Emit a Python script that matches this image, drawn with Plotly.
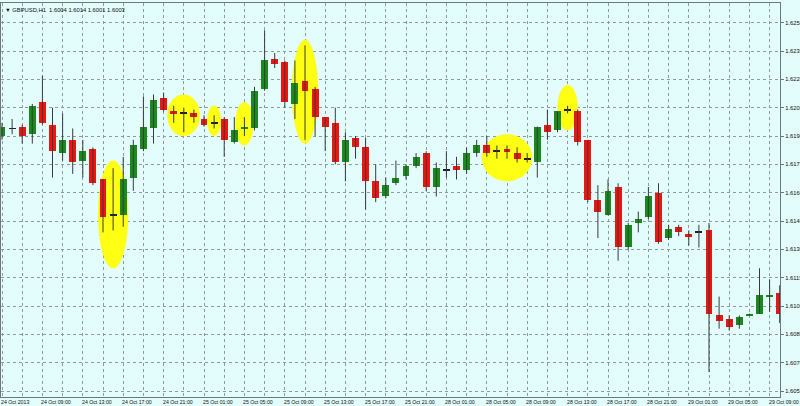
import plotly.graph_objects as go

title_text = "▼ GBPUSD,H1  1.6004 1.6014 1.6001 1.6003"

open_ = [1.6190, 1.6194, 1.6195, 1.6191, 1.6208, 1.6196, 1.6181, 1.6188, 1.6177, 1.6183,
         1.6167, 1.6148, 1.6148, 1.6168, 1.6183, 1.6194, 1.6210, 1.6203, 1.6202, 1.6202,
         1.6199, 1.6197, 1.6199, 1.6187, 1.6194, 1.6194, 1.6215, 1.6231, 1.6229, 1.6207,
         1.6219, 1.6215, 1.6200, 1.6197, 1.6176, 1.6189, 1.6184, 1.6166, 1.6158, 1.6165,
         1.6169, 1.6174, 1.6181, 1.6163, 1.6172, 1.6174, 1.6172, 1.6181, 1.6185, 1.6182,
         1.6183, 1.6181, 1.6178, 1.6176, 1.6196, 1.6193, 1.6204, 1.6203, 1.6188, 1.6156,
         1.6148, 1.6163, 1.6131, 1.6144, 1.6147, 1.6160, 1.6136, 1.6142, 1.6138, 1.6139,
         1.6140, 1.6095, 1.6093, 1.6090, 1.6095, 1.6096, 1.6105, 1.6107]
high = [1.6197, 1.6199, 1.6196, 1.6207, 1.6222, 1.6205, 1.6202, 1.6194, 1.6188, 1.6184,
        1.6167, 1.6173, 1.6179, 1.6188, 1.6211, 1.6212, 1.6213, 1.6206, 1.6205, 1.6204,
        1.6201, 1.6201, 1.6200, 1.6200, 1.6200, 1.6216, 1.6246, 1.6234, 1.6230, 1.6230,
        1.6238, 1.6216, 1.6200, 1.6205, 1.6192, 1.6190, 1.6189, 1.6175, 1.6168, 1.6177,
        1.6175, 1.6181, 1.6182, 1.6176, 1.6182, 1.6179, 1.6184, 1.6188, 1.6190, 1.6185,
        1.6185, 1.6184, 1.6181, 1.6195, 1.6204, 1.6203, 1.6206, 1.6204, 1.6188, 1.6164,
        1.6167, 1.6165, 1.6144, 1.6150, 1.6163, 1.6165, 1.6143, 1.6143, 1.6140, 1.6143,
        1.6144, 1.6105, 1.6095, 1.6095, 1.6096, 1.6120, 1.6114, 1.6111]
low = [1.6188, 1.6191, 1.6186, 1.6186, 1.6196, 1.6168, 1.6177, 1.6170, 1.6168, 1.6164,
       1.6139, 1.6140, 1.6142, 1.6161, 1.6182, 1.6186, 1.6203, 1.6197, 1.6192, 1.6197,
       1.6195, 1.6194, 1.6179, 1.6186, 1.6190, 1.6193, 1.6214, 1.6226, 1.6205, 1.6199,
       1.6188, 1.6190, 1.6182, 1.6175, 1.6166, 1.6178, 1.6151, 1.6155, 1.6157, 1.6164,
       1.6167, 1.6173, 1.6161, 1.6158, 1.6168, 1.6167, 1.6170, 1.6179, 1.6179, 1.6178,
       1.6178, 1.6176, 1.6176, 1.6168, 1.6188, 1.6192, 1.6202, 1.6185, 1.6155, 1.6136,
       1.6148, 1.6124, 1.6130, 1.6139, 1.6146, 1.6133, 1.6135, 1.6137, 1.6132, 1.6131,
       1.6065, 1.6088, 1.6087, 1.6088, 1.6095, 1.6096, 1.6097, 1.6091]
close = [1.6195, 1.6194, 1.6190, 1.6206, 1.6197, 1.6182, 1.6188, 1.6176, 1.6182, 1.6165,
         1.6147, 1.6148, 1.6167, 1.6185, 1.6195, 1.6209, 1.6204, 1.6202, 1.6202, 1.6200,
         1.6196, 1.6197, 1.6188, 1.6193, 1.6195, 1.6214, 1.6230, 1.6228, 1.6208, 1.6218,
         1.6214, 1.6200, 1.6195, 1.6176, 1.6188, 1.6184, 1.6166, 1.6157, 1.6164, 1.6168,
         1.6174, 1.6179, 1.6163, 1.6173, 1.6172, 1.6172, 1.6181, 1.6185, 1.6181, 1.6182,
         1.6182, 1.6178, 1.6178, 1.6195, 1.6192, 1.6203, 1.6204, 1.6187, 1.6156, 1.6150,
         1.6161, 1.6131, 1.6143, 1.6146, 1.6158, 1.6134, 1.6141, 1.6139, 1.6137, 1.6139,
         1.6096, 1.6092, 1.6089, 1.6094, 1.6096, 1.6106, 1.6106, 1.6096]

label_index = [0, 4, 8, 12, 16, 20, 24, 28, 32, 36, 40, 44, 48, 52, 56, 60, 64, 68, 72, 76]
label_text = ["24 Oct 2013", "24 Oct 09:00", "24 Oct 13:00", "24 Oct 17:00", "24 Oct 21:00",
              "25 Oct 01:00", "25 Oct 05:00", "25 Oct 09:00", "25 Oct 13:00", "25 Oct 17:00",
              "25 Oct 21:00", "28 Oct 01:00", "28 Oct 05:00", "28 Oct 09:00", "28 Oct 13:00",
              "28 Oct 17:00", "28 Oct 21:00", "29 Oct 01:00", "29 Oct 05:00", "29 Oct 09:00"]

price_ticks = [1.6055, 1.6070, 1.6085, 1.6100, 1.6115, 1.6130, 1.6145,
               1.6160, 1.6175, 1.6190, 1.6205, 1.6220, 1.6235, 1.6250]

# highlight ellipses (candle-index span, price span)
ell_x0 = [9.5, 16.35, 20.3, 23.1, 28.7, 47.5, 55.0]
ell_x1 = [12.5, 19.6, 21.7, 24.9, 31.3, 52.5, 57.0]
ell_y0 = [1.6120, 1.6190, 1.6190, 1.6185, 1.6186, 1.6166, 1.6193]
ell_y1 = [1.6177, 1.6212, 1.6206, 1.6208, 1.6241, 1.6191, 1.6217]

BG = "#E3FCFC"
GREEN = "#1A8A1C"
RED = "#EE1410"
WICK = "#3A3A3A"
GRID = "#8E9C9C"

n = len(open_)
idx = list(range(n))

wx, wy = [], []
for i in idx:
    wx += [i, i, None]
    wy += [high[i], low[i], None]

bases, heights, colors = [], [], []
for o, c in zip(open_, close):
    if c == o:
        bases.append(o - 0.000022)
        heights.append(0.000044)
        colors.append("#202020")
    else:
        lo, hi = min(o, c), max(o, c)
        h = max(hi - lo, 0.00004)
        bases.append(lo)
        heights.append(h)
        colors.append(GREEN if c > o else RED)

fig = go.Figure()
fig.add_trace(go.Scatter(x=wx, y=wy, mode="lines", line=dict(color=WICK, width=1),
                         hoverinfo="skip", showlegend=False))
fig.add_trace(go.Bar(x=idx, y=heights, base=bases, width=0.68,
                     marker=dict(color=colors, line=dict(width=0)),
                     showlegend=False))

for a, b, c, d in zip(ell_x0, ell_x1, ell_y0, ell_y1):
    fig.add_shape(type="circle", xref="x", yref="y", x0=a, x1=b, y0=c, y1=d,
                  fillcolor="#FFFF14", line=dict(width=0), layer="between")

for i, t in zip(label_index, label_text):
    fig.add_annotation(x=i, xref="x", y=0, yref="paper", text=t, showarrow=False,
                       xanchor="left", yanchor="top", xshift=-3, yshift=0,
                       font=dict(size=5.2, color="#111", family="Liberation Sans"))

fig.add_annotation(x=0, xref="paper", y=1, yref="paper", text=title_text, showarrow=False,
                   xanchor="left", yanchor="top", xshift=2, yshift=-2,
                   font=dict(size=5.8, color="#111", family="Liberation Sans"))

fig.update_layout(
    width=800, height=406,
    margin=dict(l=1, r=20, t=3, b=9, autoexpand=False),
    paper_bgcolor=BG, plot_bgcolor=BG,
    bargap=0, showlegend=False,
    xaxis=dict(range=[-0.1, 77.03], tick0=0, dtick=2, showticklabels=False,
               showgrid=True, gridcolor=GRID, griddash="3px,3px", gridwidth=1,
               zeroline=False, showline=True, linecolor="#6E7878", mirror=True, ticks=""),
    yaxis=dict(range=[1.605185, 1.626043], side="right", tickvals=price_ticks,
               tickformat=".4f", ticks="outside", ticklen=3, tickcolor="#6E7878",
               tickfont=dict(size=5.8, color="#111", family="Liberation Sans"),
               automargin=False,
               showgrid=True, gridcolor=GRID, griddash="3px,3px", gridwidth=1,
               zeroline=False, showline=True, linecolor="#6E7878", mirror=True),
)

fig.write_html("out.html", config={"displayModeBar": False},
               post_script="document.body.style.margin='0';document.body.style.overflow='hidden';")
